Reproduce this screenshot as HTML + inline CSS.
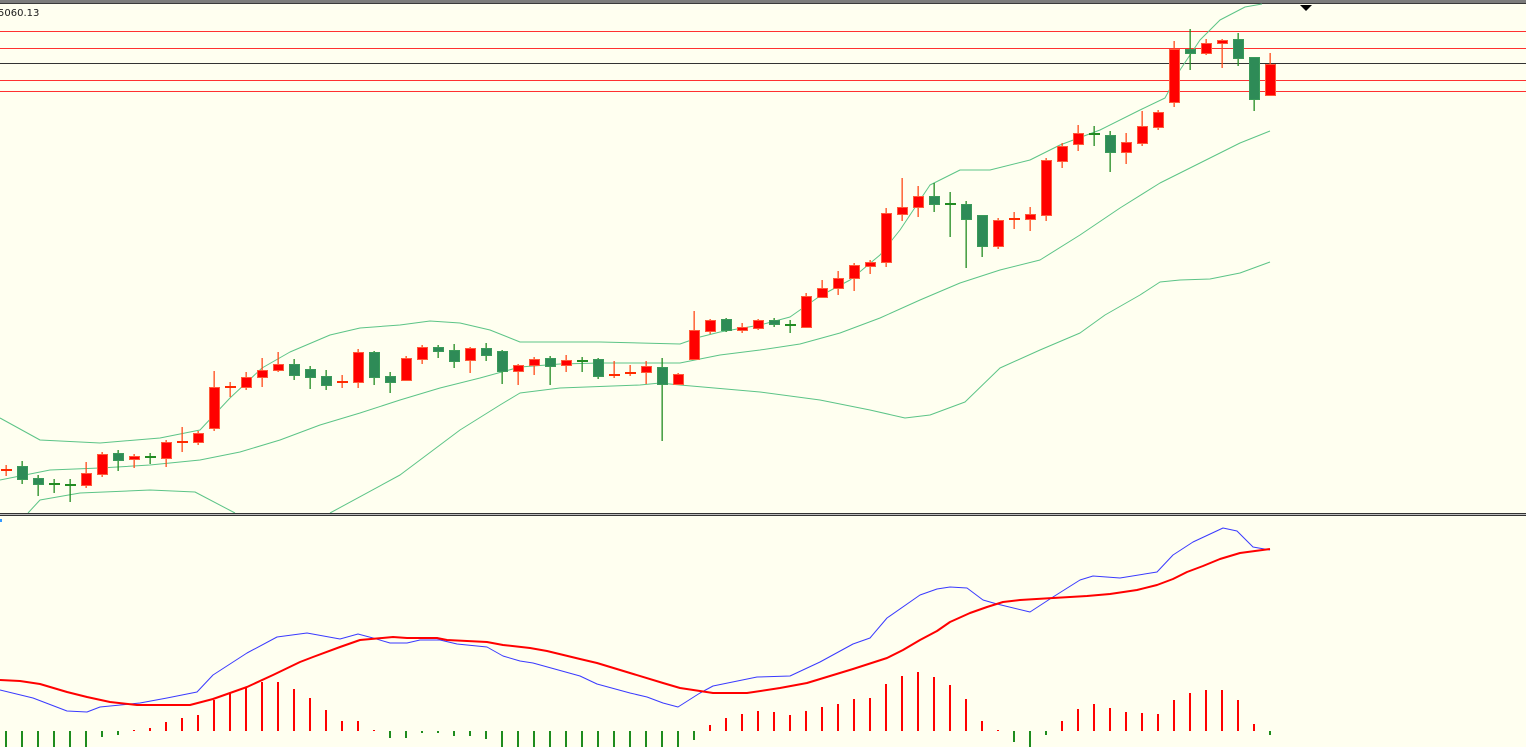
<!DOCTYPE html>
<html><head><meta charset="utf-8"><style>
html,body{margin:0;padding:0;background:#FFFFF0;}
svg{display:block;}
</style></head><body>
<svg id="s" width="1526" height="747" xmlns="http://www.w3.org/2000/svg" style="font-family:'DejaVu Sans','Liberation Sans',sans-serif">
<rect width="1526" height="747" fill="#FFFFF0"/>
<rect x="0" y="0" width="1526" height="3" fill="#7c7c7c"/>
<rect x="0" y="3" width="1526" height="1" fill="#3a3a3a"/>
<text x="-2" y="16" font-size="10" fill="#1a1a1a">5060.13</text>
<polygon points="1300,5 1312,5 1306,11" fill="#000"/>
<g stroke="#FF3030" stroke-width="1">
<line x1="0" y1="31.5" x2="1526" y2="31.5"/>
<line x1="0" y1="48.5" x2="1526" y2="48.5"/>
<line x1="0" y1="80.5" x2="1526" y2="80.5"/>
<line x1="0" y1="91.5" x2="1526" y2="91.5"/>
</g>
<line x1="0" y1="63.5" x2="1526" y2="63.5" stroke="#333" stroke-width="1"/>
<g id="bb" fill="none" stroke="#5cc487" stroke-width="1"></g>
<g id="cd"></g>
<rect x="0" y="513" width="1526" height="1" fill="#333"/>
<rect x="0" y="514" width="1526" height="1" fill="#bbb"/>
<rect x="0" y="515" width="1526" height="1" fill="#333"/>
<rect x="0" y="519" width="2" height="3" fill="#3399ff"/>
<g id="mc"></g>
</svg>
<script>
var NS="http://www.w3.org/2000/svg";
function el(p,t,a){var e=document.createElementNS(NS,t);for(var k in a)e.setAttribute(k,a[k]);p.appendChild(e);return e;}
function pl(p,pts,c,w){el(p,"polyline",{points:pts.map(function(q){return q[0]+","+q[1]}).join(" "),fill:"none",stroke:c,"stroke-width":w,"stroke-linejoin":"round"});}
var bb=document.getElementById("bb");
pl(bb,[[0,418],[40,440],[100,443],[160,438],[200,430],[230,398],[262,368],[290,352],[330,335],[360,328],[400,325],[430,321],[460,323],[490,330],[520,342],[560,342],[600,342],[640,343],[680,344],[700,337],[720,332],[760,325],[790,317],[820,296],[850,280],[880,255],[900,230],[930,185],[960,170],[990,170],[1030,160],[1060,145],[1100,130],[1140,110],[1165,98],[1180,70],[1200,40],[1220,20],[1245,7],[1262,4]],"#5cc487",1);
pl(bb,[[0,480],[50,470],[100,468],[150,465],[200,460],[240,452],[280,440],[320,425],[360,413],[400,400],[440,388],[480,378],[520,367],[560,364],[600,363],[640,363],[680,363],[720,355],[760,350],[800,344],[840,333],[880,318],[920,300],[960,283],[1000,270],[1040,260],[1080,235],[1120,208],[1160,183],[1200,163],[1240,143],[1270,131]],"#5cc487",1);
pl(bb,[[28,513],[40,500],[80,493],[150,490],[195,492],[235,513]],"#5cc487",1);
pl(bb,[[330,513],[400,475],[460,430],[500,405],[520,393],[560,388],[640,385],[660,383],[680,385],[760,392],[820,400],[870,410],[905,418],[930,415],[965,402],[1000,368],[1040,350],[1080,333],[1105,315],[1140,295],[1160,282],[1180,280],[1210,279],[1240,273],[1270,262]],"#5cc487",1);
var C=[
[6,'r',469,471,465,476],[22,'g',466,479,461,484],[38,'g',478,484,475,496],[54,'g',483,484,479,493],[70,'g',484,485,479,502],[86,'r',473,485,462,488],[102,'r',454,474,452,477],[118,'g',453,460,450,471],[134,'r',456,459,454,468],[150,'g',456,457,453,464],[166,'r',442,458,440,467],[182,'r',441,442,427,452],[198,'r',433,442,431,445],[214,'r',387,428,371,431],[230,'r',386,387,382,397],[246,'r',377,387,372,390],[262,'r',370,377,358,387],[278,'r',364,370,352,372],[294,'g',364,375,359,380],[310,'g',369,377,366,389],[326,'g',376,385,370,390],[342,'r',381,383,375,388],[358,'r',352,382,349,388],[374,'g',352,377,351,385],[390,'g',376,382,372,393],[406,'r',358,380,356,381],[422,'r',347,359,345,364],[438,'g',347,351,345,358],[454,'g',350,361,344,368],[470,'r',348,360,347,373],[486,'g',348,355,343,361],[502,'g',351,371,350,384],[518,'r',365,371,364,385],[534,'r',359,365,357,375],[550,'g',358,366,356,385],[566,'r',360,365,355,372],[582,'g',360,361,357,372],[598,'g',359,376,358,379],[614,'r',374,376,361,378],[630,'r',372,374,365,376],[646,'r',366,372,361,384],[662,'g',367,384,358,441],[678,'r',374,384,373,385],[694,'r',330,359,311,360],[710,'r',320,331,319,334],[726,'g',319,330,318,332],[742,'r',327,330,323,333],[758,'r',320,328,319,330],[774,'g',320,324,318,327],[790,'g',324,326,320,333],[806,'r',296,327,293,328],[822,'r',288,297,280,298],[838,'r',278,288,271,295],[854,'r',265,278,263,291],[870,'r',262,266,260,274],[886,'r',213,262,208,267],[902,'r',207,214,178,221],[918,'r',196,207,186,217],[934,'g',196,204,183,212],[950,'g',203,205,192,237],[966,'g',204,219,201,268],[982,'g',215,246,215,257],[998,'r',220,246,218,249],[1014,'r',218,220,212,229],[1030,'r',214,219,207,231],[1046,'r',160,215,158,221],[1062,'r',146,161,143,168],[1078,'r',133,144,125,151],[1094,'g',133,135,126,146],[1110,'g',135,152,131,172],[1126,'r',142,152,133,164],[1142,'r',126,143,111,146],[1158,'r',112,127,110,130],[1174,'r',49,102,41,107],[1190,'g',49,53,29,70],[1206,'r',43,53,39,55],[1222,'r',40,43,39,68],[1238,'g',39,58,33,66],[1254,'g',57,99,57,111],[1270,'r',64,95,53,96]];
var cd=document.getElementById("cd");
C.forEach(function(c){
 var x=c[0],r=c[1]=='r';
 var wc=r?"#FF4A1A":"#228B22", bc=r?"#FF0000":"#2E8B57", oc=r?"#FF5A3A":"#3a9a5a";
 el(cd,"rect",{x:x-0.5,y:c[4],width:1.3,height:c[5]-c[4],fill:wc});
 var h=c[3]-c[2];
 if(h<3){el(cd,"rect",{x:x-5,y:c[2],width:11,height:2,fill:r?"#FF2A00":"#228B22"});}
 else el(cd,"rect",{x:x-4.5,y:c[2]+0.5,width:10,height:h,fill:bc,stroke:oc,"stroke-width":1});
});
var mc=document.getElementById("mc");
var H=[[6,747],[22,747],[38,747],[54,747],[70,747],[86,747],[102,737],[118,735],[134,730],[150,728],[166,722],[182,718],[198,715],[214,700],[230,693],[246,687],[262,682],[278,682],[294,689],[310,698],[326,710],[342,721],[358,721],[374,730],[390,738],[406,738],[422,733],[438,733],[454,736],[470,736],[486,739],[502,747],[518,747],[534,747],[550,747],[566,747],[582,747],[598,747],[614,747],[630,747],[646,747],[662,747],[678,747],[694,740],[710,725],[726,718],[742,714],[758,711],[774,712],[790,715],[806,711],[822,707],[838,704],[854,699],[870,698],[886,684],[902,676],[918,672],[934,677],[950,685],[966,699],[982,721],[998,730],[1014,742],[1030,747],[1046,735],[1062,721],[1078,709],[1094,704],[1110,708],[1126,712],[1142,713],[1158,714],[1174,700],[1190,693],[1206,690],[1222,690],[1238,700],[1254,724],[1270,735]];
H.forEach(function(b){var z=731;if(b[1]>z){el(mc,"rect",{x:b[0]-1,y:z,width:2,height:b[1]-z,fill:"#1e8c1e"});}else{var t=Math.min(b[1],730);el(mc,"rect",{x:b[0]-1,y:t,width:2,height:z-t,fill:"#FF0000"});}});
pl(mc,[[0,690],[33,698],[67,711],[87,712],[100,707],[140,703],[167,698],[197,692],[213,675],[247,653],[277,637],[307,633],[340,639],[358,634],[373,638],[390,643],[407,643],[420,640],[440,640],[457,644],[487,647],[503,656],[520,661],[533,663],[580,676],[597,684],[630,693],[647,697],[663,703],[678,707],[700,693],[713,686],[757,677],[790,676],[820,662],[853,644],[870,638],[887,618],[920,595],[937,589],[950,587],[967,588],[983,600],[997,604],[1030,612],[1053,597],[1080,580],[1093,576],[1120,578],[1157,572],[1173,555],[1193,542],[1223,528],[1237,531],[1253,547],[1270,550]],"#3a3aff",1);
pl(mc,[[0,680],[20,681],[40,684],[67,692],[87,697],[110,702],[137,705],[190,705],[213,699],[247,687],[273,675],[300,662],[313,657],[340,647],[360,640],[393,637],[407,638],[437,638],[447,640],[487,642],[503,645],[530,648],[547,651],[580,659],[597,663],[630,673],[663,683],[680,688],[700,691],[713,693],[747,693],[780,688],[807,683],[830,676],[853,669],[887,658],[903,650],[920,640],[937,631],[950,622],[970,613],[987,607],[1003,602],[1020,600],[1053,598],[1087,596],[1110,594],[1137,590],[1157,585],[1173,579],[1187,572],[1203,566],[1220,559],[1240,553],[1270,549]],"#FF0000",2);
</script>
</body></html>
